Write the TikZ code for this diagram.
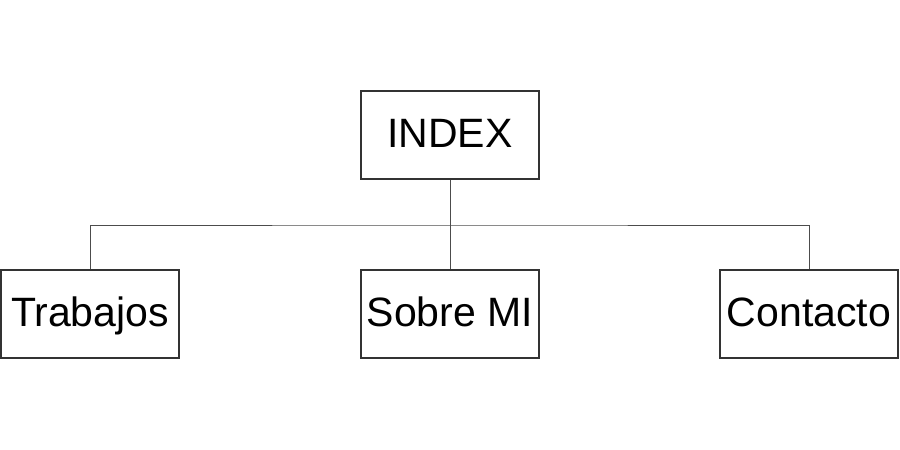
\documentclass[tikz,border=0pt]{standalone}
\usepackage{fontspec}
\setmainfont{Liberation Sans}
\begin{document}
\begin{tikzpicture}[x=1pt,y=-1pt,
  box/.style={draw=black!80, line width=1.2pt, fill=white, minimum width=178pt, minimum height=88pt, inner sep=0pt, text height=29pt, text depth=5pt, font=\fontsize{41}{48}\selectfont},
  link/.style={draw=black!70, line width=1pt}]
\useasboundingbox (0,0) rectangle (900,450);
\node[box] (index) at (450,135) {INDEX};
\node[box] (trab) at (90,314) {Trabajos};
\node[box] (sobre) at (450,314) {Sobre MI};
\node[box] (cont) at (809,314) {Contacto};
\coordinate (j) at (450,225);
\draw[link] (index.south) -- (sobre.north);
\draw[link] (trab.north) |- (j) -| (cont.north);
\end{tikzpicture}
\end{document}
